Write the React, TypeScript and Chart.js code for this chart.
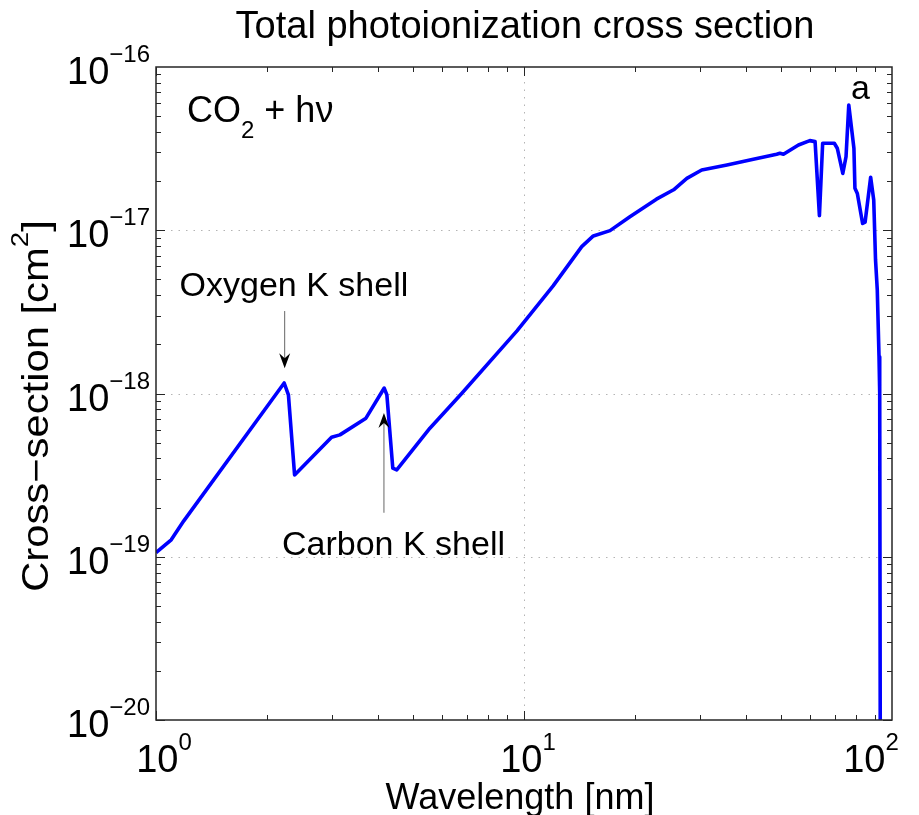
import React, { useEffect, useRef } from "react";
import { Chart, registerables } from "chart.js";

Chart.register(...registerables);

// Total photoionization cross section of CO2 versus wavelength
const wavelengthNm = [
  1.0, 1.1, 1.19, 2.23, 2.29, 2.38, 3.0, 3.16, 3.72, 4.17, 4.24, 4.4, 4.51,
  5.55, 6.77, 9.57, 12.0, 14.35, 15.43, 17.13, 19.4, 22.9, 25.5, 27.7, 30.4,
  35.6, 42.0, 48.6, 49.6, 50.7, 55.7, 59.8, 61.8, 63.5, 64.8, 69.7, 71.0, 73.5,
  75.0, 76.3, 78.8, 79.3, 80.5, 83.2, 84.5, 87.5, 89.2, 90.2, 91.2, 92.2, 92.6,
  92.9,
];
const crossSectionCm2 = [
  1.06e-19, 1.27e-19, 1.66e-19, 1.16e-18, 9.8e-19, 3.17e-19, 5.4e-19, 5.58e-19,
  7.06e-19, 1.08e-18, 9.8e-19, 3.49e-19, 3.4e-19, 6.13e-19, 1.0e-18, 2.42e-18,
  4.56e-18, 7.94e-18, 9.23e-18, 9.95e-18, 1.21e-17, 1.55e-17, 1.77e-17,
  2.08e-17, 2.34e-17, 2.51e-17, 2.72e-17, 2.92e-17, 2.96e-17, 2.92e-17,
  3.33e-17, 3.54e-17, 3.49e-17, 1.23e-17, 3.41e-17, 3.41e-17, 3.18e-17,
  2.23e-17, 2.82e-17, 5.85e-17, 3.18e-17, 1.81e-17, 1.68e-17, 1.1e-17, 1.12e-17,
  2.11e-17, 1.53e-17, 6.6e-18, 4.31e-18, 1.68e-18, 1.0e-18, 1.0e-20,
];

// Decade ticks and their exponent labels
const xDecades = [1, 10, 100];
const xExponents = ["0", "1", "2"];
const xLabelShift = [8, 4, -21];
const yDecades = [1e-16, 1e-17, 1e-18, 1e-19, 1e-20];
const yExponents = ["\u221216", "\u221217", "\u221218", "\u221219", "\u221220"];

// Annotation anchors in data units
const oxygenArrow = { x: 2.23, from: 3.2e-18, to: 1.43e-18 };
const carbonArrow = { x: 4.15, from: 1.86e-19, to: 7.6e-19 };
const oxygenLabel = { x: 2.37, y: 3.96e-18, text: "Oxygen K shell" };
const carbonLabel = { x: 4.42, y: 1.03e-19, text: "Carbon K shell" };
const panelLabel = { x: 82.1, y: 6.37e-17, text: "a" };
const moleculeLabel = { x: 1.214, y: 4.6e-17 };

const FONT = '"Liberation Sans", Arial, Helvetica, sans-serif';

type Run = { t: string; size: number; dy?: number };

function runsWidth(ctx: CanvasRenderingContext2D, runs: Run[]) {
  let w = 0;
  for (const r of runs) {
    ctx.font = `${r.size}px ${FONT}`;
    w += ctx.measureText(r.t).width;
  }
  return w;
}

function drawRuns(
  ctx: CanvasRenderingContext2D,
  runs: Run[],
  x: number,
  y: number,
  align: "left" | "center" | "right"
) {
  const total = runsWidth(ctx, runs);
  let cx = align === "center" ? x - total / 2 : align === "right" ? x - total : x;
  ctx.textAlign = "left";
  ctx.textBaseline = "alphabetic";
  for (const r of runs) {
    ctx.font = `${r.size}px ${FONT}`;
    ctx.fillText(r.t, cx, y + (r.dy || 0));
    cx += ctx.measureText(r.t).width;
  }
}

function drawArrow(
  ctx: CanvasRenderingContext2D,
  x: number,
  y0: number,
  y1: number
) {
  // shaft from y0 to tip y1, head at the tip
  const dir = y1 > y0 ? 1 : -1;
  ctx.save();
  ctx.strokeStyle = "#666666";
  ctx.lineWidth = 1;
  ctx.beginPath();
  ctx.moveTo(x + 0.5, y0);
  ctx.lineTo(x + 0.5, y1 - dir * 8);
  ctx.stroke();
  ctx.fillStyle = "#000000";
  ctx.beginPath();
  ctx.moveTo(x + 0.5, y1);
  ctx.lineTo(x + 0.5 - 5.5, y1 - dir * 15);
  ctx.lineTo(x + 0.5, y1 - dir * 10);
  ctx.lineTo(x + 0.5 + 5.5, y1 - dir * 15);
  ctx.closePath();
  ctx.fill();
  ctx.restore();
}

const gridPlugin = {
  id: "matlabGrid",
  beforeDatasetsDraw(chart: any) {
    const { ctx, chartArea: a, scales } = chart;
    const xs = scales.x;
    const ys = scales.y;
    ctx.save();
    ctx.strokeStyle = "#b4b4b4";
    ctx.lineWidth = 1;
    ctx.setLineDash([1.5, 6]);
    for (const v of xDecades) {
      const px = Math.round(xs.getPixelForValue(v)) + 0.5;
      if (px <= a.left + 1 || px >= a.right - 1) continue;
      ctx.beginPath();
      ctx.moveTo(px, a.top);
      ctx.lineTo(px, a.bottom);
      ctx.stroke();
    }
    for (const v of yDecades) {
      const py = Math.round(ys.getPixelForValue(v)) + 0.5;
      if (py <= a.top + 1 || py >= a.bottom - 1) continue;
      ctx.beginPath();
      ctx.moveTo(a.left, py);
      ctx.lineTo(a.right, py);
      ctx.stroke();
    }
    ctx.restore();
  },
};

const framePlugin = {
  id: "matlabFrame",
  afterDatasetsDraw(chart: any) {
    const { ctx, chartArea: a, scales } = chart;
    const xs = scales.x;
    const ys = scales.y;
    ctx.save();
    ctx.strokeStyle = "#262626";
    ctx.lineWidth = 1.5;
    ctx.setLineDash([]);
    ctx.strokeRect(a.left, a.top, a.right - a.left, a.bottom - a.top);

    // inward tick marks on all four sides
    ctx.lineWidth = 1;
    ctx.beginPath();
    for (let d = 0; d < 2; d++) {
      for (let m = 1; m <= 9; m++) {
        const v = m * Math.pow(10, d);
        const px = Math.round(xs.getPixelForValue(v)) + 0.5;
        const len = m === 1 ? 9 : 5;
        ctx.moveTo(px, a.bottom);
        ctx.lineTo(px, a.bottom - len);
        ctx.moveTo(px, a.top);
        ctx.lineTo(px, a.top + len);
      }
    }
    for (let d = -20; d < -16; d++) {
      for (let m = 1; m <= 9; m++) {
        const v = m * Math.pow(10, d);
        const py = Math.round(ys.getPixelForValue(v)) + 0.5;
        const len = m === 1 ? 9 : 5;
        ctx.moveTo(a.left, py);
        ctx.lineTo(a.left + len, py);
        ctx.moveTo(a.right, py);
        ctx.lineTo(a.right - len, py);
      }
    }
    ctx.stroke();

    ctx.fillStyle = "#000000";
    // x tick labels
    xDecades.forEach((v, i) => {
      const px = xs.getPixelForValue(v);
      drawRuns(
        ctx,
        [
          { t: "10", size: 38 },
          { t: xExponents[i], size: 24, dy: -22 },
        ],
        px + xLabelShift[i],
        a.bottom + 52,
        "center"
      );
    });
    // y tick labels
    yDecades.forEach((v, i) => {
      const py = ys.getPixelForValue(v);
      drawRuns(
        ctx,
        [
          { t: "10", size: 38 },
          { t: yExponents[i], size: 24, dy: -22 },
        ],
        a.left - 6,
        py + 17,
        "right"
      );
    });

    // title and axis labels
    drawRuns(
      ctx,
      [{ t: "Total photoionization cross section", size: 38 }],
      (a.left + a.right) / 2 + 1,
      38,
      "center"
    );
    drawRuns(
      ctx,
      [{ t: "Wavelength [nm]", size: 36 }],
      (a.left + a.right) / 2 - 4,
      809,
      "center"
    );
    ctx.save();
    ctx.translate(48, 406);
    ctx.rotate(-Math.PI / 2);
    ctx.scale(1.16, 1);
    drawRuns(
      ctx,
      [
        { t: "Cross\u2212section [cm", size: 36 },
        { t: "2", size: 24, dy: -20 },
        { t: "]", size: 36 },
      ],
      0,
      0,
      "center"
    );
    ctx.restore();

    // annotations
    const ox = xs.getPixelForValue(oxygenArrow.x);
    drawArrow(ctx, ox, ys.getPixelForValue(oxygenArrow.from), ys.getPixelForValue(oxygenArrow.to));
    const cx = xs.getPixelForValue(carbonArrow.x);
    drawArrow(ctx, cx, ys.getPixelForValue(carbonArrow.from), ys.getPixelForValue(carbonArrow.to));

    drawRuns(
      ctx,
      [{ t: oxygenLabel.text, size: 34 }],
      xs.getPixelForValue(oxygenLabel.x),
      ys.getPixelForValue(oxygenLabel.y),
      "center"
    );
    drawRuns(
      ctx,
      [{ t: carbonLabel.text, size: 34 }],
      xs.getPixelForValue(carbonLabel.x),
      ys.getPixelForValue(carbonLabel.y),
      "center"
    );
    drawRuns(
      ctx,
      [{ t: panelLabel.text, size: 34 }],
      xs.getPixelForValue(panelLabel.x),
      ys.getPixelForValue(panelLabel.y),
      "center"
    );
    drawRuns(
      ctx,
      [
        { t: "CO", size: 36 },
        { t: "2", size: 24, dy: 16 },
        { t: " + h\u03BD", size: 36 },
      ],
      xs.getPixelForValue(moleculeLabel.x),
      ys.getPixelForValue(moleculeLabel.y),
      "left"
    );
    ctx.restore();
  },
};

export default function App() {
  const canvasRef = useRef<HTMLCanvasElement | null>(null);

  useEffect(() => {
    const canvas = canvasRef.current;
    if (!canvas) return;
    const points = wavelengthNm.map((x, i) => ({ x, y: crossSectionCm2[i] }));
    const chart = new Chart(canvas, {
      type: "line",
      data: {
        datasets: [
          {
            label: "CO2",
            data: points,
            borderColor: "#0000ff",
            borderWidth: 3.6,
            pointRadius: 0,
            tension: 0,
            fill: false,
            borderJoinStyle: "round",
          },
        ],
      },
      options: {
        responsive: false,
        animation: false,
        devicePixelRatio: 1,
        layout: { padding: { left: 0, right: 27, top: 67, bottom: 0 } },
        plugins: {
          legend: { display: false },
          title: { display: false },
          tooltip: { enabled: false },
        },
        scales: {
          x: {
            type: "logarithmic",
            min: 1,
            max: 100,
            grid: { display: false },
            border: { display: false },
            ticks: { display: false },
            afterFit(scale: any) {
              scale.height = 95;
            },
          },
          y: {
            type: "logarithmic",
            min: 1e-20,
            max: 1e-16,
            grid: { display: false },
            border: { display: false },
            ticks: { display: false },
            afterFit(scale: any) {
              scale.width = 156;
            },
          },
        },
      },
      plugins: [gridPlugin, framePlugin],
    } as any);
    return () => chart.destroy();
  }, []);

  return (
    <div style={{ position: "absolute", left: 0, top: 0, width: 919, height: 815, background: "#ffffff" }}>
      <canvas ref={canvasRef} width={919} height={815} style={{ display: "block" }} />
    </div>
  );
}
